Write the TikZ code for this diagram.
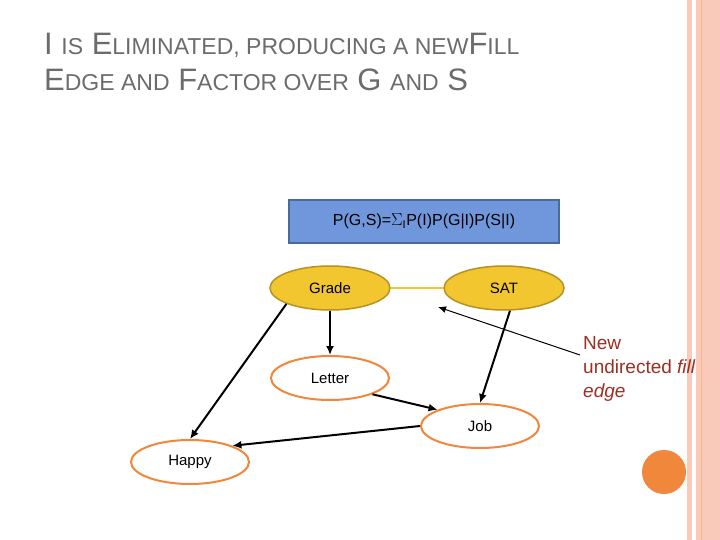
\documentclass[tikz,border=0pt]{standalone}
\usepackage{fontspec}
\setmainfont{Liberation Sans}
\usetikzlibrary{shapes.geometric,arrows.meta}
\definecolor{gold}{HTML}{F2C62F}
\definecolor{goldb}{HTML}{B89023}
\definecolor{orng}{HTML}{F0873A}
\definecolor{blu}{HTML}{7097DB}
\definecolor{blub}{HTML}{4A6A9E}
\definecolor{pinkl}{HTML}{F9C9B9}
\definecolor{dred}{HTML}{9B3022}
\begin{document}
\begin{tikzpicture}[x=1pt,y=-1pt,
 ev/.style={ellipse,draw=goldb,fill=gold,line width=1.5pt,minimum width=120pt,minimum height=44pt,font=\fontsize{15}{17}\selectfont},
 wv/.style={ellipse,draw=orng,fill=white,line width=2pt,minimum width=118pt,minimum height=44pt,font=\fontsize{15}{17}\selectfont},
 arr/.style={-{Latex[length=9pt,width=8pt]},line width=2pt,black}]
\useasboundingbox (0,0) rectangle (720,540);
\fill[white] (0,0) rectangle (720,540);
\fill[pinkl] (687,0) rectangle (692,540);
\fill[pinkl] (696,0) rectangle (720,540);
\draw[orng!60,line width=0.8pt] (701,0) -- (701,540);
\node[anchor=west,text=gray!85!black,font=\fontsize{31}{34}\selectfont,inner sep=0pt] (t1) at (44,45) {I {\fontsize{23}{25}\selectfont IS} E{\fontsize{23}{25}\selectfont LIMINATED, PRODUCING A NEW}F{\fontsize{23}{25}\selectfont ILL}};
\node[anchor=west,text=gray!85!black,font=\fontsize{31}{34}\selectfont,inner sep=0pt] (t2) at (44,80) {E{\fontsize{23}{25}\selectfont DGE AND} F{\fontsize{23}{25}\selectfont ACTOR OVER} G {\fontsize{23}{25}\selectfont AND} S};
\node[draw=blub,fill=blu,line width=1.5pt,minimum width=270pt,minimum height=43pt,font=\fontsize{16}{18}\selectfont] (f) at (424,221.5) {P(G,S)=$\Sigma_{\mathrm{I}}$P(I)P(G|I)P(S|I)};
\node[ev] (g) at (330,288) {Grade};
\node[ev] (s) at (504,288) {SAT};
\node[wv] (l) at (330,378) {Letter};
\node[wv] (j) at (480,426) {Job};
\node[wv] (h) at (190,462) {Happy};
\draw[gold,line width=2.5pt] (g) -- (s);
\draw[arr] (g) -- (l);
\draw[arr] (s.south) ++(6,0) coordinate (sa) (sa) -- (j.north);
\draw[arr] (l.south east) -- (j.north west);
\draw[arr] (j.west) -- (h.north east);
\draw[arr] (g.200) -- (h.north);
\coordinate (pe) at (580,355);
\coordinate (pt) at (438,307);
\draw[-{Latex[length=8pt,width=7pt]},line width=1pt,black] (pe) -- (pt);
\node[anchor=north west,text=dred,align=left,font=\fontsize{19}{24}\selectfont,inner sep=0pt] (lab) at (583,336) {New\\undirected \textit{fill}\\\textit{edge}};
\fill[orng] (664,472) circle (22);
\end{tikzpicture}
\end{document}
